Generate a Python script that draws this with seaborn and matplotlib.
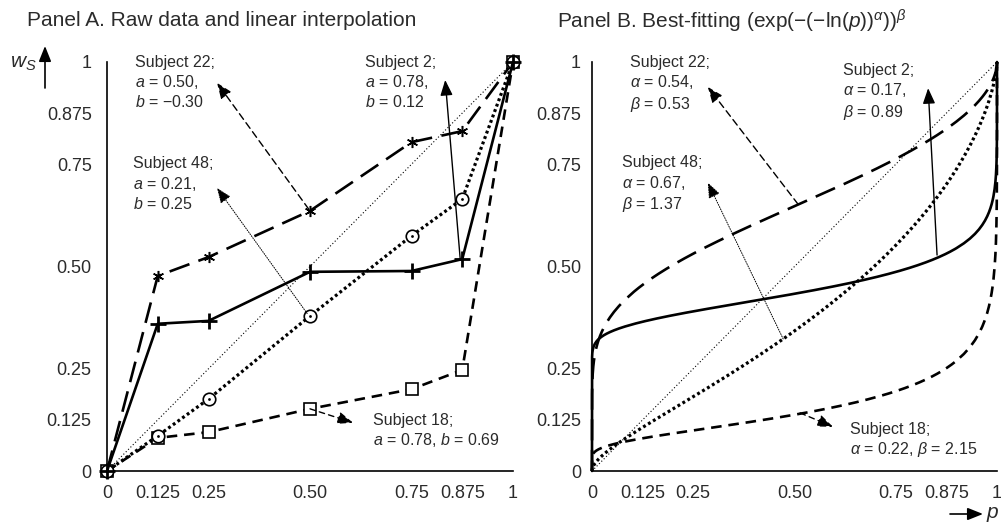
import numpy as np
import pandas as pd
import matplotlib
matplotlib.use("Agg")
import matplotlib.pyplot as plt
import seaborn as sns

# ---------------- data ----------------
p_levels = [0, 0.125, 0.25, 0.5, 0.75, 0.875, 1]
w_s2 = [0, 0.360, 0.367, 0.487, 0.489, 0.518, 1]
w_s22 = [0, 0.477, 0.523, 0.636, 0.804, 0.831, 1]
w_s48 = [0, 0.086, 0.176, 0.379, 0.575, 0.665, 1]
w_s18 = [0, 0.081, 0.095, 0.152, 0.200, 0.247, 1]
diag = [0, 1]

subjects = ["Subject 2", "Subject 22", "Subject 48", "Subject 18"]
a_params = ["0.78", "0.50", "0.21", "0.78"]
b_params = ["0.12", "\u22120.30", "0.25", "0.69"]
alpha_params = [0.17, 0.54, 0.67, 0.22]
beta_params = [0.89, 0.53, 1.37, 2.15]

tick_values = [0, 0.125, 0.25, 0.5, 0.75, 0.875, 1]
tick_labels = ["0", "0.125", "0.25", "0.50", "0.75", "0.875", "1"]

title_a = "Panel A. Raw data and linear interpolation"
title_b = r"Panel B. Best-fitting $(\exp(-(-\ln(p))^{\alpha}))^{\beta}$"

# ---------------- style ----------------
sns.set_theme(style="white")
plt.rcParams["font.family"] = ["Liberation Sans", "DejaVu Sans"]
plt.rcParams["mathtext.fontset"] = "custom"
plt.rcParams["mathtext.rm"] = "Liberation Sans"
plt.rcParams["mathtext.it"] = "Liberation Sans:italic"
plt.rcParams["mathtext.sf"] = "Liberation Sans"
plt.rcParams["axes.unicode_minus"] = True
TXT = "#2b2b2b"

fig = plt.figure(figsize=(10.01, 5.26), dpi=100)
axA = fig.add_axes([107 / 1001, 55 / 526, 406 / 1001, 409 / 526])
axB = fig.add_axes([592 / 1001, 55 / 526, 405 / 1001, 409 / 526])


def prelec(p, a, b):
    p = np.asarray(p, dtype=float)
    out = np.zeros_like(p)
    inner = (p > 0) & (p < 1)
    out[inner] = np.exp(-b * (-np.log(p[inner])) ** a)
    out[p >= 1] = 1.0
    return out


eps = np.logspace(-15, -1, 160)
p_grid = np.unique(np.concatenate([[0.0], eps, np.linspace(0.1, 0.9, 201), 1 - eps, [1.0]]))

styles = {
    "Subject 2": dict(linestyle="-", linewidth=1.9),
    "Subject 22": dict(linestyle=(0, (8, 3.6)), linewidth=1.9),
    "Subject 48": dict(linestyle=(0, (0.9, 0.9)), linewidth=2.3),
    "Subject 18": dict(linestyle=(0, (4, 2.6)), linewidth=1.9),
}

# ---------------- Panel A ----------------
sns.lineplot(x=diag, y=diag, ax=axA, color="black", linestyle=(0, (1, 2)),
             linewidth=0.8, clip_on=False, zorder=2)
sns.lineplot(x=p_levels, y=w_s22, ax=axA, color="black", **styles["Subject 22"],
             marker=(6, 2, 0), markersize=8, markeredgewidth=1.1,
             markeredgecolor="black", markerfacecolor="black", clip_on=False, zorder=3)
sns.lineplot(x=p_levels, y=w_s18, ax=axA, color="black", **styles["Subject 18"],
             marker="s", markersize=8, markeredgewidth=1.2,
             markeredgecolor="black", markerfacecolor="white", clip_on=False, zorder=3)
sns.lineplot(x=p_levels, y=w_s48, ax=axA, color="black", **styles["Subject 48"],
             marker="o", markersize=9, markeredgewidth=1.2,
             markeredgecolor="black", markerfacecolor="white", clip_on=False, zorder=4)
sns.scatterplot(x=p_levels, y=w_s48, ax=axA, color="black", s=4, linewidth=0,
                clip_on=False, zorder=5)
sns.lineplot(x=p_levels, y=w_s2, ax=axA, color="black", **styles["Subject 2"],
             marker="+", markersize=11, markeredgewidth=2.0,
             markeredgecolor="black", clip_on=False, zorder=4)

# ---------------- Panel B ----------------
sns.lineplot(x=diag, y=diag, ax=axB, color="black", linestyle=(0, (1, 2)),
             linewidth=0.8, clip_on=False, zorder=2)
fit_df = pd.DataFrame({"p": p_grid})
for subj, al, be in zip(subjects, alpha_params, beta_params):
    fit_df[subj] = prelec(p_grid, al, be)
for subj in ["Subject 22", "Subject 18", "Subject 48", "Subject 2"]:
    sns.lineplot(data=fit_df, x="p", y=subj, ax=axB, color="black",
                 **styles[subj], clip_on=False, zorder=3, sort=False)

# ---------------- axes cosmetics ----------------
for ax, pad in ((axA, 6), (axB, 3)):
    ax.set_xlim(0, 1)
    ax.set_ylim(0, 1)
    ax.set_xlabel("")
    ax.set_ylabel("")
    for s in ("top", "right"):
        ax.spines[s].set_visible(False)
    for s in ("left", "bottom"):
        ax.spines[s].set_linewidth(1.2)
        ax.spines[s].set_color("black")
    ax.set_xticks(tick_values)
    ax.set_xticklabels(tick_labels)
    ax.set_yticks(tick_values)
    ax.set_yticklabels(tick_labels)
    ax.tick_params(axis="both", direction="inout", length=10, width=1.2,
                   color="black", labelsize=13, labelcolor=TXT, pad=pad)
    ax.tick_params(axis="x", pad=5)
    ax.set_facecolor("none")
    ax.patch.set_visible(False)

fig.text(27 / 1001, 1 - 21 / 526, title_a, fontsize=15, color=TXT, va="center", ha="left")
fig.text(557 / 1001, 1 - 21 / 526, title_b, fontsize=15, color=TXT, va="center", ha="left")

# ---------------- annotations ----------------
FS = 11.5


def arrow(ax, tail, head, ls, lw=1.0):
    ax.annotate("", xy=head, xytext=tail, xycoords="data", textcoords="data",
                arrowprops=dict(arrowstyle="-|>,head_length=0.55,head_width=0.22",
                                mutation_scale=17, color="black", lw=lw,
                                linestyle=ls, shrinkA=0, shrinkB=0),
                annotation_clip=False, zorder=6)


# Panel A
arrow(axA, (0.497, 0.640), (0.271, 0.949), (0, (5, 3)))
arrow(axA, (0.870, 0.518), (0.833, 0.956), "-")
arrow(axA, (0.493, 0.385), (0.271, 0.692), (0, (1, 1.5)), lw=0.7)
arrow(axA, (0.500, 0.152), (0.606, 0.118), (0, (4, 3)))

axA.text(0.069, 1.018, f"Subject 22;\n$a$ = {a_params[1]},\n$b$ = {b_params[1]}", fontsize=FS,
         color=TXT, va="top", ha="left", linespacing=1.25)
axA.text(0.635, 1.018, f"Subject 2;\n$a$ = {a_params[0]},\n$b$ = {b_params[0]}", fontsize=FS,
         color=TXT, va="top", ha="left", linespacing=1.25)
axA.text(0.064, 0.770, f"Subject 48;\n$a$ = {a_params[2]},\n$b$ = {b_params[2]}", fontsize=FS,
         color=TXT, va="top", ha="left", linespacing=1.25)
axA.text(0.655, 0.142, f"Subject 18;\n$a$ = {a_params[3]}, $b$ = {b_params[3]}", fontsize=FS,
         color=TXT, va="top", ha="left", linespacing=1.25)

# Panel B
arrow(axB, (0.509, 0.652), (0.286, 0.939), (0, (5, 3)))
arrow(axB, (0.852, 0.528), (0.830, 0.936), "-")
arrow(axB, (0.472, 0.323), (0.286, 0.705), (0, (1, 1.5)), lw=0.7)
arrow(axB, (0.514, 0.142), (0.595, 0.108), (0, (4, 3)))

axB.text(0.094, 1.018, f"Subject 22;\n$\\alpha$ = {alpha_params[1]:.2f},\n$\\beta$ = {beta_params[1]:.2f}",
         fontsize=FS, color=TXT, va="top", ha="left", linespacing=1.25)
axB.text(0.620, 0.998, f"Subject 2;\n$\\alpha$ = {alpha_params[0]:.2f},\n$\\beta$ = {beta_params[0]:.2f}",
         fontsize=FS, color=TXT, va="top", ha="left", linespacing=1.25)
axB.text(0.074, 0.772, f"Subject 48;\n$\\alpha$ = {alpha_params[2]:.2f},\n$\\beta$ = {beta_params[2]:.2f}",
         fontsize=FS, color=TXT, va="top", ha="left", linespacing=1.25)
axB.text(0.637, 0.120, f"Subject 18;\n$\\alpha$ = {alpha_params[3]:.2f}, $\\beta$ = {beta_params[3]:.2f}",
         fontsize=FS, color=TXT, va="top", ha="left", linespacing=1.25)

# axis name arrows
fig.text(10 / 1001, 1 - 64 / 526, "$w_S$", fontsize=15, color=TXT, va="center", ha="left")
fig.add_artist(matplotlib.patches.FancyArrowPatch(
    (45 / 1001, 1 - 88 / 526), (45 / 1001, 1 - 46 / 526), transform=fig.transFigure,
    arrowstyle="-|>,head_length=0.55,head_width=0.22", mutation_scale=17,
    color="black", lw=1.2, shrinkA=0, shrinkB=0))
fig.text(986 / 1001, 1 - 514 / 526, "$p$", fontsize=15, color=TXT, va="center", ha="left")
fig.add_artist(matplotlib.patches.FancyArrowPatch(
    (950 / 1001, 1 - 514 / 526), (983 / 1001, 1 - 514 / 526), transform=fig.transFigure,
    arrowstyle="-|>,head_length=0.55,head_width=0.22", mutation_scale=17,
    color="black", lw=1.2, shrinkA=0, shrinkB=0))

fig.savefig("out.png", dpi=100, facecolor="white")
